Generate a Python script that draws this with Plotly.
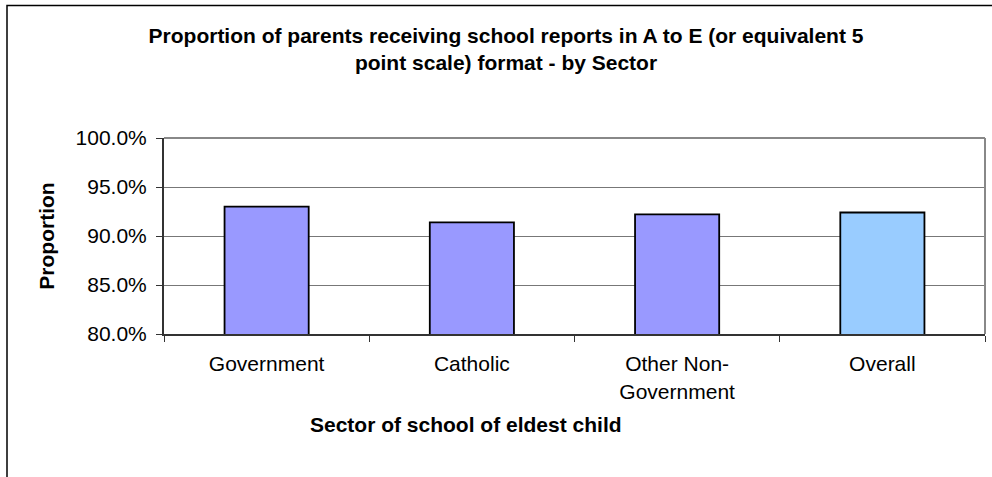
import plotly.graph_objects as go

# Survey results: share of parents receiving A-E style reports, by school sector
sectors = ["Government", "Catholic", "Other Non-<br>Government", "Overall"]
proportions = [0.930, 0.914, 0.922, 0.924]
bar_colors = ["#9999FF", "#9999FF", "#9999FF", "#99CCFF"]

y_ticks = [0.80, 0.85, 0.90, 0.95, 1.00]

W, H = 992, 477
ML, MR, MT, MB = 164, 7, 138, 143
PW = W - ML - MR
PH = H - MT - MB

FONT = "Arial, 'Liberation Sans', sans-serif"
FS = 21


def px_x(px):
    return (px - ML) / PW


def px_y(py):
    return (H - MB - py) / PH


fig = go.Figure(
    go.Bar(
        x=sectors,
        y=proportions,
        marker=dict(color=bar_colors, line=dict(color="#000000", width=1.8)),
        hoverinfo="x+y",
    )
)

fig.update_layout(
    width=W,
    height=H,
    margin=dict(l=ML, r=MR, t=MT, b=MB),
    paper_bgcolor="#FFFFFF",
    plot_bgcolor="#FFFFFF",
    bargap=0.59,
    showlegend=False,
    font=dict(family=FONT, size=FS, color="#000000"),
    title=dict(
        text="<b>Proportion of parents receiving school reports in A to E (or equivalent 5<br>point scale) format - by Sector</b>",
        font=dict(family=FONT, size=FS, color="#000000"),
        xref="container",
        x=506 / W,
        xanchor="center",
        yref="container",
        y=1 - 43 / H,
        yanchor="top",
    ),
    xaxis=dict(
        showline=True,
        linecolor="#333333",
        linewidth=2,
        ticks="outside",
        ticklen=6,
        tickcolor="#333333",
        tickwidth=1,
        tickson="boundaries",
        showgrid=False,
        tickfont=dict(family=FONT, size=FS, color="#000000"),
        ticklabelstandoff=10,
    ),
    yaxis=dict(
        range=[0.80, 1.00],
        tickvals=y_ticks,
        tickformat=".1%",
        showline=True,
        linecolor="#333333",
        linewidth=2,
        ticks="outside",
        ticklen=6,
        tickcolor="#333333",
        tickwidth=1,
        showgrid=True,
        gridcolor="#777777",
        gridwidth=1,
        zeroline=False,
        tickfont=dict(family=FONT, size=FS, color="#000000"),
        ticklabelstandoff=5,
        title=dict(
            text="<b>Proportion</b>",
            font=dict(family=FONT, size=FS, color="#000000"),
            standoff=15,
        ),
    ),
    annotations=[
        dict(
            text="<b>Sector of school of eldest child</b>",
            xref="paper",
            yref="paper",
            x=px_x(466),
            y=px_y(424),
            xanchor="center",
            yanchor="middle",
            showarrow=False,
            font=dict(family=FONT, size=FS, color="#000000"),
        )
    ],
    shapes=[
        # top and right edges of the plot area
        dict(type="line", xref="paper", yref="paper", x0=0, x1=1, y0=1, y1=1,
             line=dict(color="#888888", width=2)),
        dict(type="line", xref="paper", yref="paper", x0=1, x1=1, y0=0, y1=1,
             line=dict(color="#888888", width=2)),
        # outer chart frame
        dict(type="rect", xref="paper", yref="paper",
             x0=px_x(7), x1=px_x(1010), y0=px_y(485), y1=px_y(5.5),
             line=dict(color="#000000", width=1.5), layer="below"),
    ],
)

fig.write_html("out.html")
